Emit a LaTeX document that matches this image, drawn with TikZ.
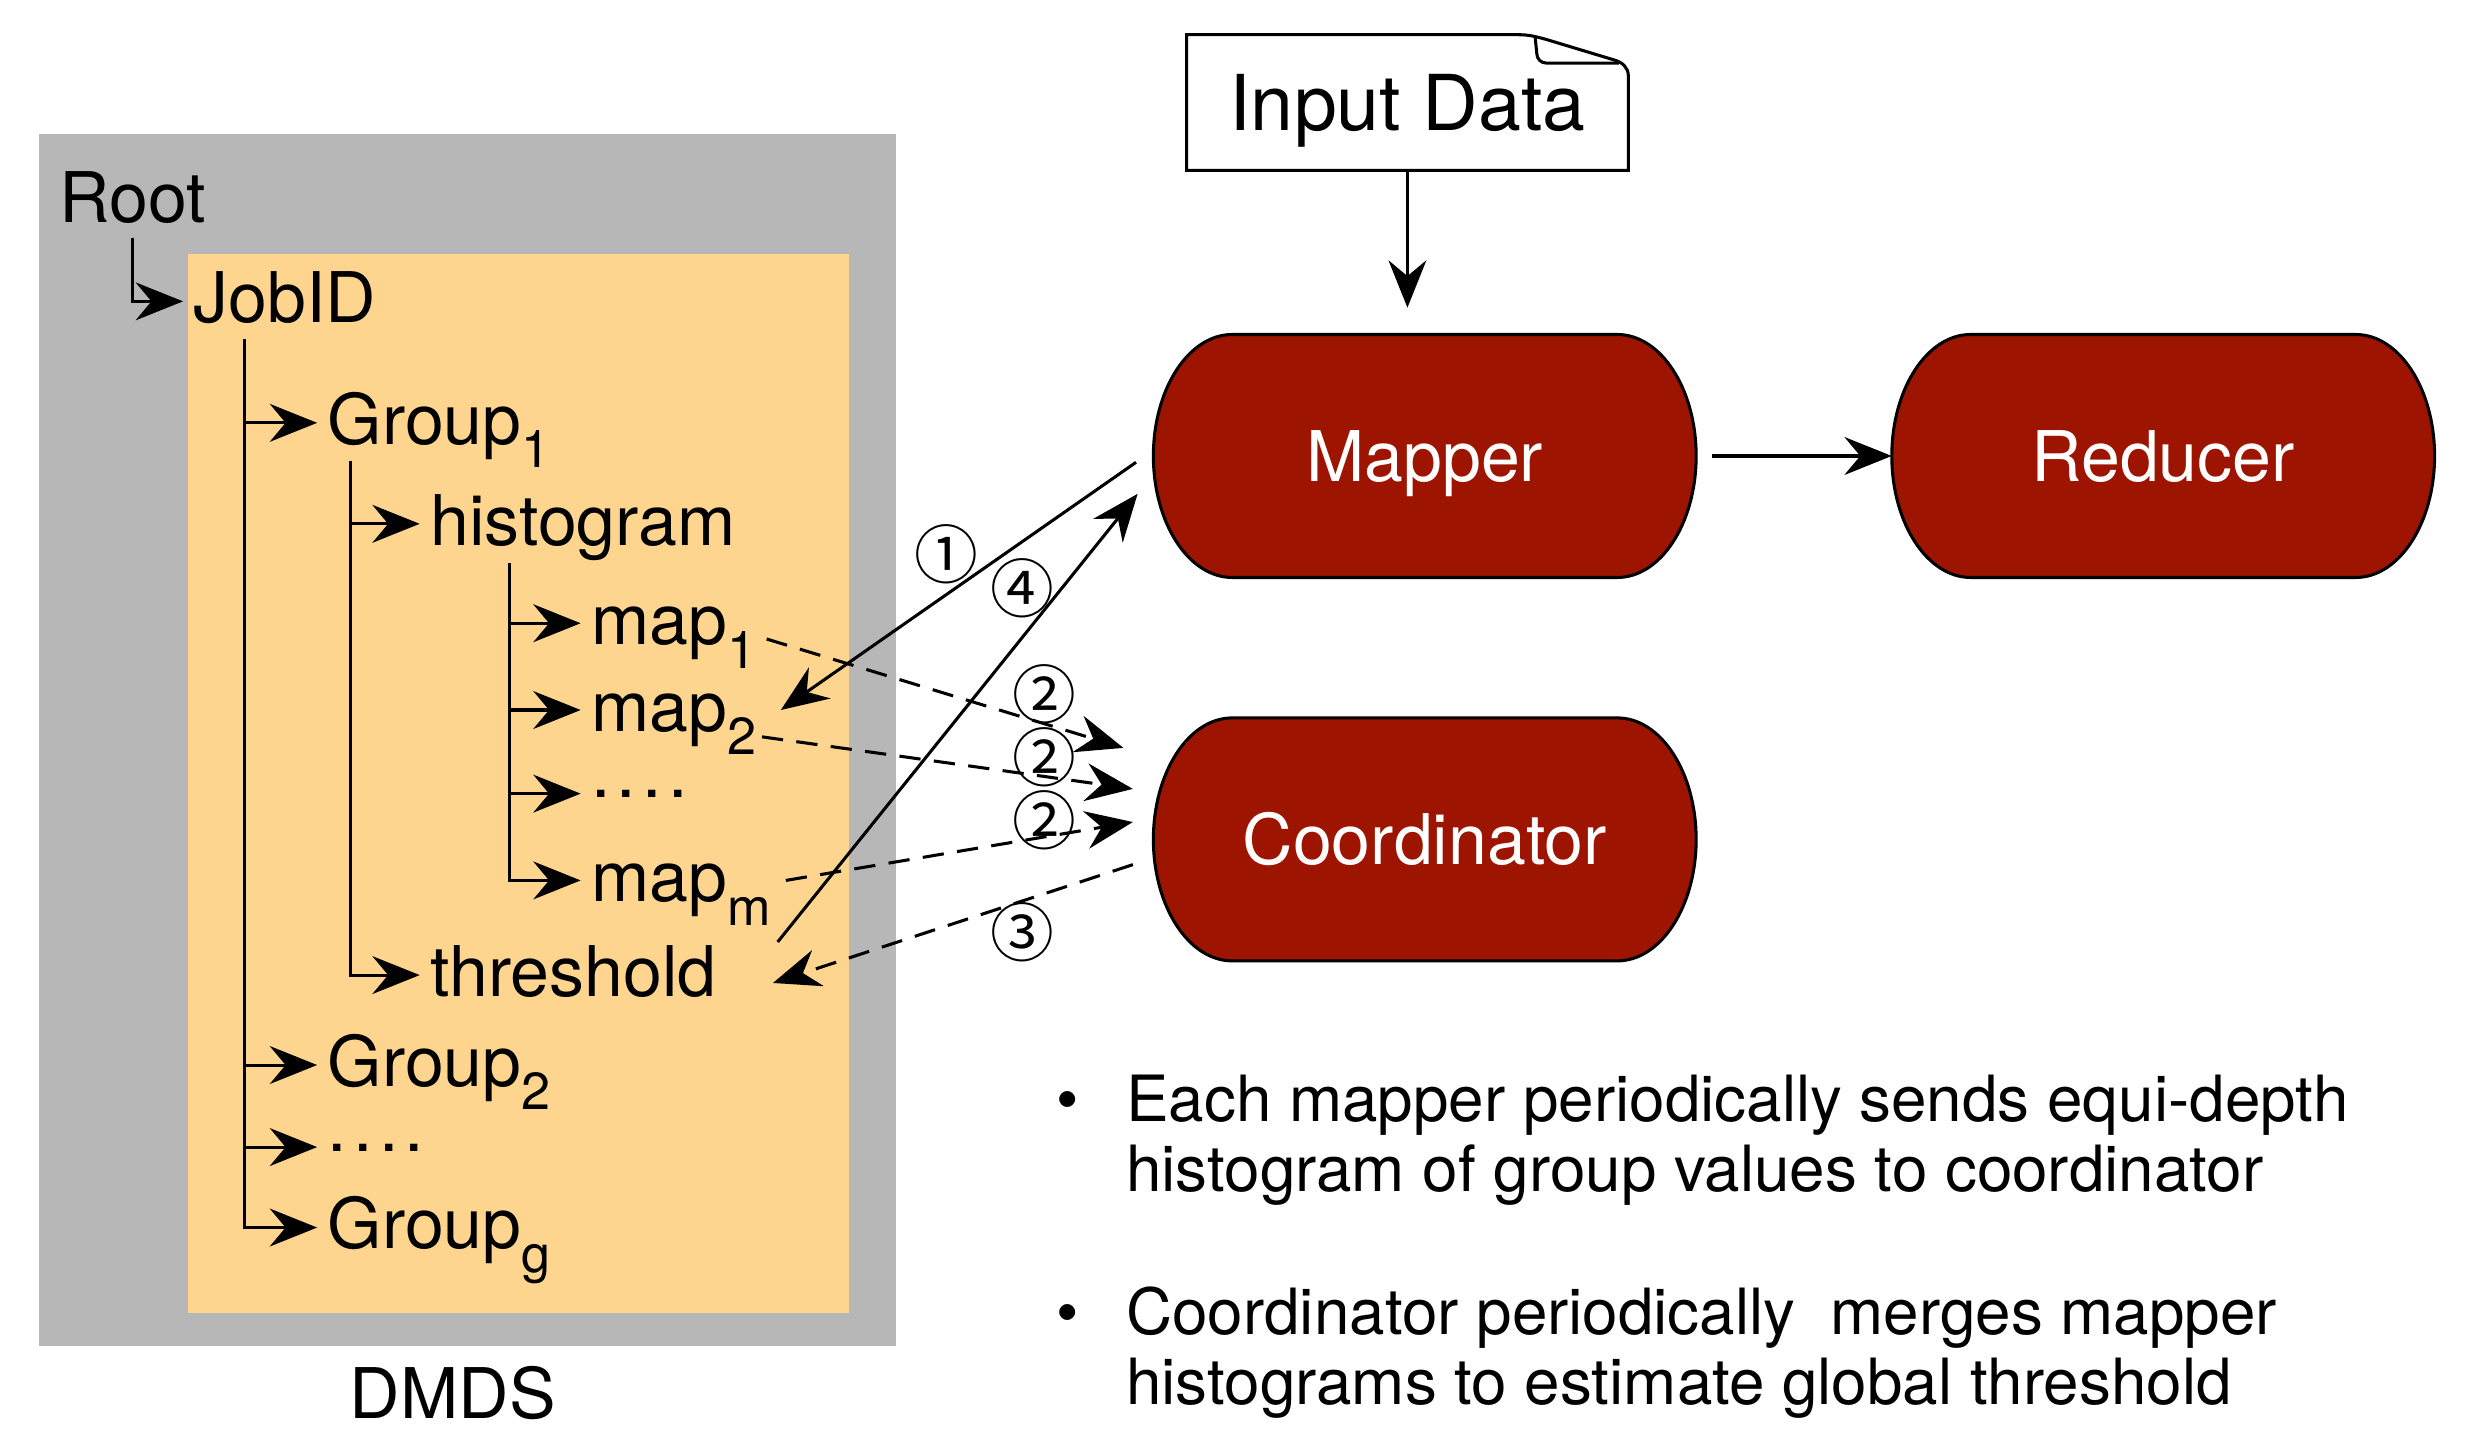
\documentclass[tikz,border=0pt]{standalone}
\usepackage{fontspec}
\setmainfont{TeX Gyre Heros}
\newfontfamily\circfont{Noto Sans CJK SC}
\usetikzlibrary{arrows.meta, backgrounds}

\definecolor{dmdsgray}{RGB}{183,183,183}
\definecolor{dmdsorange}{RGB}{254,213,142}
\definecolor{procred}{RGB}{157,21,1}

\newcommand{\treefont}{\fontsize{12.6}{15}\selectfont}
\newcommand{\notefont}{\fontsize{11.5}{12.5}\selectfont}
\newcommand{\lowsub}[1]{\raisebox{-0.15cm}{\fontsize{9.4}{10}\selectfont #1}}
\newcommand{\middots}{\raisebox{0.11cm}{.\kern0.04cm.\kern0.04cm.\kern0.04cm.}}

\tikzstyle{treeitem} = [anchor=west, 
inner xsep=0.06cm, inner ysep=0pt, 
text height=0.27cm, 
text depth=0pt, 
font=\treefont]
\tikzstyle{process} = [rectangle, 
minimum width=3.44cm, 
minimum height=1.54cm, 
inner sep=0pt, outer sep=0pt, 
text height=0.32cm, text depth=0pt, 
text=white, 
font=\treefont]
\tikzstyle{capsule} = [draw=black, line width=0.55pt, fill=procred]
\tikzstyle{io} = [rectangle, 
minimum width=2.8cm, 
minimum height=0.86cm, 
inner sep=0pt, outer sep=0pt, 
text height=0.36cm, text depth=0pt, 
font=\fontsize{13.9}{16}\selectfont]
\tikzstyle{circnum} = [inner sep=0pt, 
text height=0.29cm, text depth=0pt, 
font=\circfont\fontsize{11.5}{12}\selectfont]
\tikzstyle{arrow} = [line width=0.55pt, -{Stealth[length=3mm, width=2.4mm, inset=1mm]}]
\tikzstyle{dasharrow} = [arrow, dash pattern=on 1.35mm off 0.85mm]

% outline with half-ellipse ends, drawn behind a process node
\newcommand{\drawcapsule}[1]{%
  \path[capsule] ([xshift=0.5cm]#1.north west) -- ([xshift=-0.5cm]#1.north east)
    arc[start angle=90, end angle=-90, x radius=0.5cm, y radius=0.77cm]
    -- ([xshift=0.5cm]#1.south west)
    arc[start angle=270, end angle=90, x radius=0.5cm, y radius=0.77cm] -- cycle;}

\begin{document}
\begin{tikzpicture}[node distance=2cm]
    \useasboundingbox (0,0) rectangle (15.68,9.06);

    % DMDS store
    \node (dmdsbox) [rectangle, fill=dmdsgray, minimum width=5.43cm, minimum height=7.68cm] at (2.965,4.37) {};
    \node (jobbox) [rectangle, fill=dmdsorange, minimum width=4.19cm, minimum height=6.71cm] at (3.285,4.095) {};
    \node (dmds) [font=\treefont] at (2.87,0.23) {DMDS};

    \node (root) [treeitem] at (0.31,7.785) {Root};
    \node (jobid) [treeitem] at (1.16,7.15) {JobID};
    \node (group1) [treeitem] at (2.01,6.38) {Group\lowsub{1}};
    \node (histogram) [treeitem] at (2.66,5.74) {histogram};
    \node (map1) [treeitem] at (3.68,5.11) {map\lowsub{1}};
    \node (map2) [treeitem] at (3.68,4.56) {map\lowsub{2}};
    \node (mapdots) [treeitem] at (3.68,4.03) {\middots};
    \node (mapm) [treeitem] at (3.68,3.48) {map\lowsub{m}};
    \node (threshold) [treeitem] at (2.66,2.88) {threshold};
    \node (group2) [treeitem] at (2.01,2.31) {Group\lowsub{2}};
    \node (groupdots) [treeitem] at (2.01,1.79) {\middots};
    \node (groupg) [treeitem] at (2.01,1.28) {Group\lowsub{g}};

    \coordinate (jobtrunk) at (1.55,6.91);
    \coordinate (group1trunk) at (2.22,6.14);
    \coordinate (histtrunk) at (3.23,5.49);

    \draw [arrow] ([yshift=-0.09cm]root.south) |- (jobid.west);
    \draw [arrow] (jobtrunk) |- (group1.west);
    \draw [arrow] (jobtrunk) |- (group2.west);
    \draw [arrow] (jobtrunk) |- (groupdots.west);
    \draw [arrow] (jobtrunk) |- (groupg.west);
    \draw [arrow] (group1trunk) |- (histogram.west);
    \draw [arrow] (group1trunk) |- (threshold.west);
    \draw [arrow] (histtrunk) |- (map1.west);
    \draw [arrow] (histtrunk) |- (map2.west);
    \draw [arrow] (histtrunk) |- (mapdots.west);
    \draw [arrow] (histtrunk) |- (mapm.west);

    % job side
    \node (mapper) [process] at (9.03,6.17) {Mapper};
    \node (reducer) [process, right of=mapper, xshift=2.68cm] {Reducer};
    \node (coordinator) [process, below of=mapper, yshift=-0.43cm] {Coordinator};
    \node (input) [io, above of=mapper, xshift=-0.11cm, yshift=0.24cm] {Input Data};

    \begin{scope}[on background layer]
        \drawcapsule{mapper}
        \drawcapsule{reducer}
        \drawcapsule{coordinator}
    \end{scope}

    % page with a folded corner
    \draw [line width=0.55pt] (input.south west) -- (input.north west)
        -- ([xshift=-0.70cm]input.north east)
        to[out=0, in=165] ([xshift=-0.52cm, yshift=-0.03cm]input.north east)
        -- ([xshift=-0.09cm, yshift=-0.16cm]input.north east)
        to[out=-15, in=90] ([yshift=-0.26cm]input.north east)
        -- (input.south east) -- cycle;
    \draw [line width=0.55pt] ([xshift=-0.59cm, yshift=-0.02cm]input.north east)
        -- ([xshift=-0.58cm, yshift=-0.12cm]input.north east)
        to[out=-90, in=180] ([xshift=-0.52cm, yshift=-0.18cm]input.north east)
        -- ([xshift=-0.06cm, yshift=-0.18cm]input.north east);

    \draw [arrow] (input.south) -- ([xshift=-0.11cm, yshift=0.17cm]mapper.north);
    \draw [arrow] ([xshift=0.1cm]mapper.east) -- (reducer.west);

    \draw [arrow] ([xshift=-0.11cm, yshift=-0.04cm]mapper.west) -- ([xshift=0.09cm]map2.east);
    \draw [arrow] ([xshift=0.32cm, yshift=0.21cm]threshold.east) -- ([xshift=-0.10cm, yshift=-0.24cm]mapper.west);
    \draw [dasharrow] ([yshift=-0.10cm]map1.east) -- ([xshift=-0.19cm, yshift=0.58cm]coordinator.west);
    \draw [dasharrow] ([xshift=-0.03cm, yshift=-0.17cm]map2.east) -- ([xshift=-0.13cm, yshift=0.32cm]coordinator.west);
    \draw [dasharrow] ([xshift=0.03cm]mapm.east) -- ([xshift=-0.13cm, yshift=0.11cm]coordinator.west);
    \draw [dasharrow] ([xshift=-0.13cm, yshift=-0.16cm]coordinator.west) -- ([xshift=0.29cm, yshift=-0.05cm]threshold.east);

    \node (num1) [circnum] at (6.00,5.54) {①};
    \node (num4) [circnum] at (6.48,5.32) {④};
    \node (num2a) [circnum] at (6.62,4.65) {②};
    \node (num2b) [circnum] at (6.62,4.25) {②};
    \node (num2c) [circnum] at (6.62,3.85) {②};
    \node (num3) [circnum] at (6.48,3.14) {③};

    % notes
    \node (note1) [anchor=base west, inner sep=0pt, font=\notefont] at (6.69,1.95)
        {\begin{tabular}[t]{@{}l@{\hspace{0.3cm}}l@{}}
        \textbullet & Each mapper periodically sends equi-depth\\
        & histogram of group values to coordinator
        \end{tabular}};
    \node (note2) [anchor=base west, inner sep=0pt, font=\notefont] at (6.69,0.60)
        {\begin{tabular}[t]{@{}l@{\hspace{0.3cm}}l@{}}
        \textbullet & Coordinator periodically~ merges mapper\\
        & histograms to estimate global threshold
        \end{tabular}};
\end{tikzpicture}
\end{document}
